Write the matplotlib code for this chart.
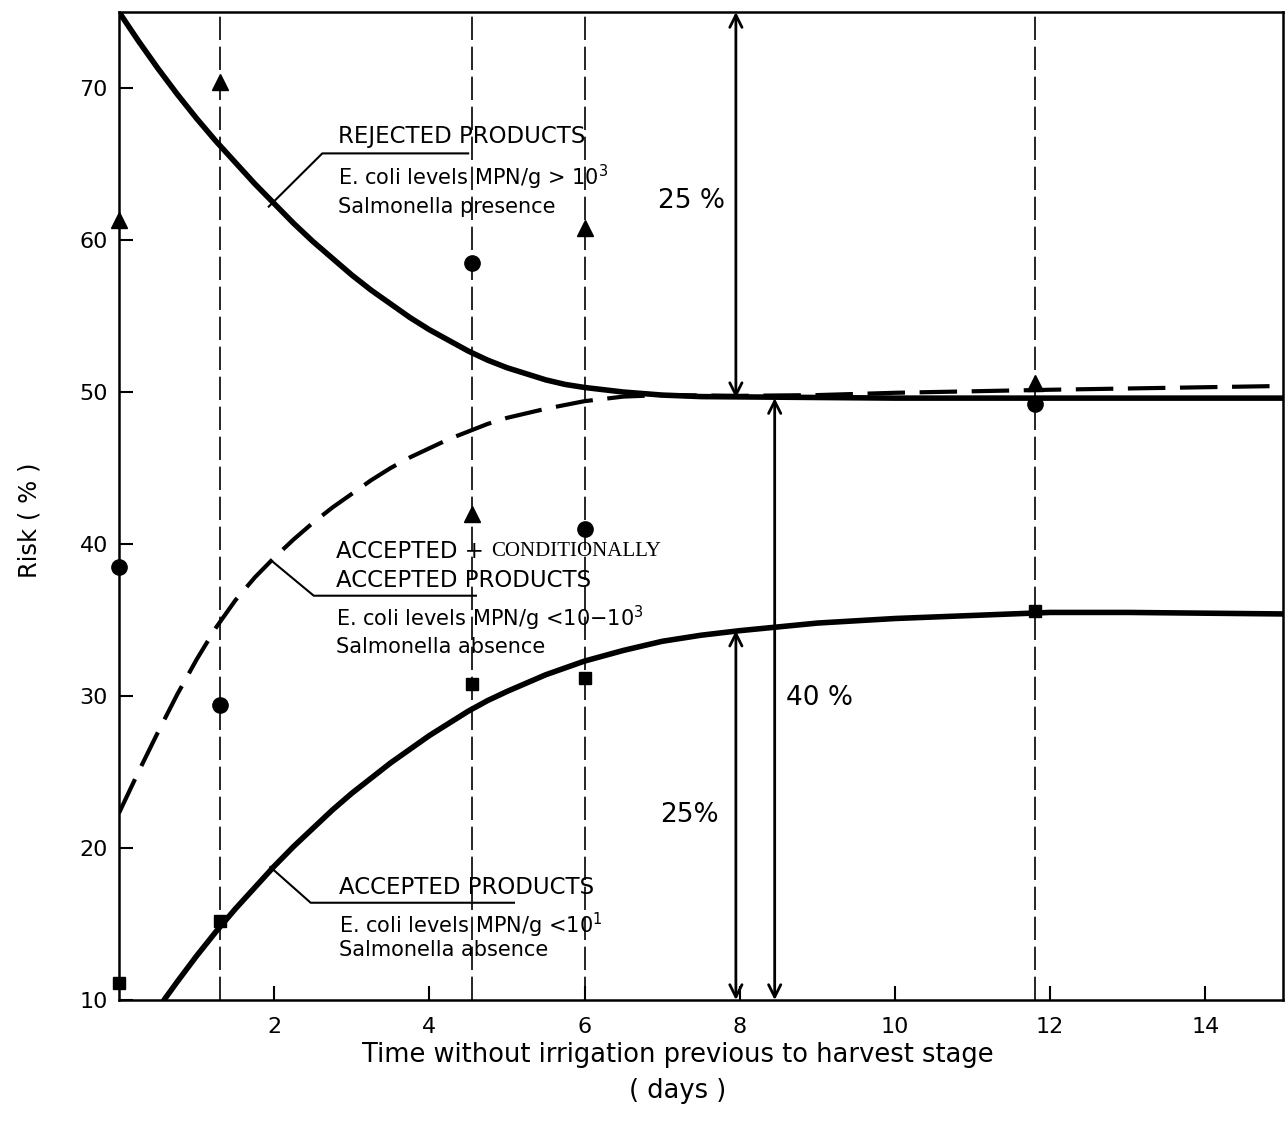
import matplotlib
matplotlib.use("Agg")
import matplotlib.pyplot as plt

plt.rcParams['font.family'] = ['DejaVu Sans']

# sampling days (vertical dashed lines) and measured risk values
days = [0, 1.3, 4.55, 6, 11.8]
rejected_pts = [61.3, 70.4, 42.0, 60.8, 50.6]      # triangles
conditional_pts = [38.5, 29.4, 58.5, 41.0, 49.2]   # circles
accepted_pts = [11.1, 15.2, 30.8, 31.2, 35.6]      # squares

# fitted curves, read every quarter day where they bend
rej_x = [0, 0.25, 0.5, 0.75, 1.0, 1.25, 1.5, 1.75, 2.0, 2.25, 2.5, 2.75, 3.0, 3.25, 3.5,
         3.75, 4.0, 4.25, 4.5, 4.75, 5.0, 5.25, 5.5, 5.75, 6.0, 6.5, 7.0, 7.5, 10, 15]
rej_y = [75.0, 73.1, 71.3, 69.6, 68.0, 66.5, 65.1, 63.7, 62.4, 61.1, 59.9, 58.8, 57.7,
         56.7, 55.8, 54.9, 54.1, 53.4, 52.7, 52.1, 51.6, 51.2, 50.8, 50.5, 50.3, 50.0,
         49.8, 49.7, 49.6, 49.6]

cond_x = [0, 0.25, 0.5, 0.75, 1.0, 1.25, 1.5, 1.75, 2.0, 2.25, 2.5, 2.75, 3.0, 3.25, 3.5,
          3.75, 4.0, 4.25, 4.5, 4.75, 5.0, 5.5, 6.0, 6.5, 7.0, 8.0, 9.0, 10, 12, 15]
cond_y = [22.3, 25.0, 27.6, 30.1, 32.4, 34.5, 36.3, 37.8, 39.1, 40.3, 41.4, 42.4, 43.3,
          44.2, 45.0, 45.7, 46.3, 46.9, 47.4, 47.9, 48.3, 48.9, 49.4, 49.7, 49.8, 49.75,
          49.8, 49.95, 50.15, 50.4]

acc_x = [0.58, 0.75, 1.0, 1.25, 1.5, 1.75, 2.0, 2.25, 2.5, 2.75, 3.0, 3.25, 3.5, 3.75,
         4.0, 4.25, 4.5, 4.75, 5.0, 5.5, 6.0, 6.5, 7.0, 7.5, 8.0, 9, 10, 11, 12, 13, 15]
acc_y = [10.0, 11.2, 12.9, 14.5, 16.0, 17.4, 18.8, 20.1, 21.3, 22.5, 23.6, 24.6, 25.6,
         26.5, 27.4, 28.2, 29.0, 29.7, 30.3, 31.4, 32.3, 33.0, 33.6, 34.0, 34.3, 34.8,
         35.1, 35.3, 35.5, 35.5, 35.4]

xticks = [2, 4, 6, 8, 10, 12, 14]
yticks = [10, 20, 30, 40, 50, 60, 70]

fig = plt.figure(figsize=(12.85, 11.36), dpi=100)
ax = fig.add_axes([0.0926, 0.1197, 0.9058, 0.8697])
ax.set_xlim(0, 15)
ax.set_ylim(10, 75)

for d in days[1:]:
    ax.axvline(d, color='black', lw=1.2, linestyle=(0, (14, 4)), zorder=1)

ax.plot(rej_x, rej_y, color='black', lw=4, solid_capstyle='round', zorder=3)
ax.plot(cond_x, cond_y, color='black', lw=3, linestyle=(0, (9, 3.5)), zorder=3)
ax.plot(acc_x, acc_y, color='black', lw=4, solid_capstyle='round', zorder=3)

ax.plot(days, rejected_pts, '^', color='black', ms=11, ls='none', clip_on=False, zorder=4)
ax.plot(days, conditional_pts, 'o', color='black', ms=11, ls='none', clip_on=False, zorder=4)
ax.plot(days, accepted_pts, 's', color='black', ms=9, ls='none', clip_on=False, zorder=4)

# leader lines + curve labels
ax.plot([1.93, 2.62, 4.50], [62.2, 65.7, 65.7], color='black', lw=1.5)
ax.text(2.82, 66.8, "REJECTED PRODUCTS", fontsize=16.5, va='center')
ax.text(2.82, 64.1, "E. coli levels MPN/g > 10$^3$", fontsize=15, va='center')
ax.text(2.82, 62.2, "Salmonella presence", fontsize=15, va='center')

ax.plot([1.99, 2.51, 4.60], [38.8, 36.6, 36.6], color='black', lw=1.5)
t1 = ax.text(2.80, 39.5, "ACCEPTED + ", fontsize=16.5, va='center')
ax.annotate("CONDITIONALLY", xy=(1, 0.5), xycoords=t1, va='center', ha='left',
            fontsize=15, family='Liberation Serif')
ax.text(2.80, 37.6, "ACCEPTED PRODUCTS", fontsize=16.5, va='center')
ax.text(2.80, 35.1, "E. coli levels MPN/g <10$-$10$^3$", fontsize=15, va='center')
ax.text(2.80, 33.2, "Salmonella absence", fontsize=15, va='center')

ax.plot([1.95, 2.47, 5.09], [18.75, 16.4, 16.4], color='black', lw=1.5)
ax.text(2.84, 17.4, "ACCEPTED PRODUCTS", fontsize=16.5, va='center')
ax.text(2.84, 14.9, "E. coli levels MPN/g <10$^1$", fontsize=15, va='center')
ax.text(2.84, 13.3, "Salmonella absence", fontsize=15, va='center')

# range arrows
arrow = dict(arrowstyle='<->', color='black', lw=2, mutation_scale=22, shrinkA=0, shrinkB=0)
ax.annotate("", xy=(7.95, 75), xytext=(7.95, 49.6), arrowprops=arrow)
ax.annotate("", xy=(7.95, 10), xytext=(7.95, 34.3), arrowprops=arrow)
ax.annotate("", xy=(8.45, 10), xytext=(8.45, 49.6), arrowprops=arrow)
ax.text(7.38, 62.6, "25 %", fontsize=19, ha='center', va='center')
ax.text(9.03, 29.9, "40 %", fontsize=19, ha='center', va='center')
ax.text(7.35, 22.2, "25%", fontsize=19, ha='center', va='center')

ax.set_xticks(xticks)
ax.set_yticks(yticks)
ax.tick_params(direction='in', length=10, width=1.5, labelsize=16)
ax.tick_params(axis='x', pad=12)
ax.tick_params(axis='y', pad=8)
for s in ax.spines.values():
    s.set_linewidth(1.8)

fig.text(0.0233, 0.542, "Risk ( % )", rotation=90, fontsize=17.5, ha='center', va='center')
fig.text(0.5276, 0.0713, "Time without irrigation previous to harvest stage",
         fontsize=18.5, ha='center', va='center')
fig.text(0.5276, 0.0396, "( days )", fontsize=18.5, ha='center', va='center')

fig.savefig("out.png", dpi=100)
